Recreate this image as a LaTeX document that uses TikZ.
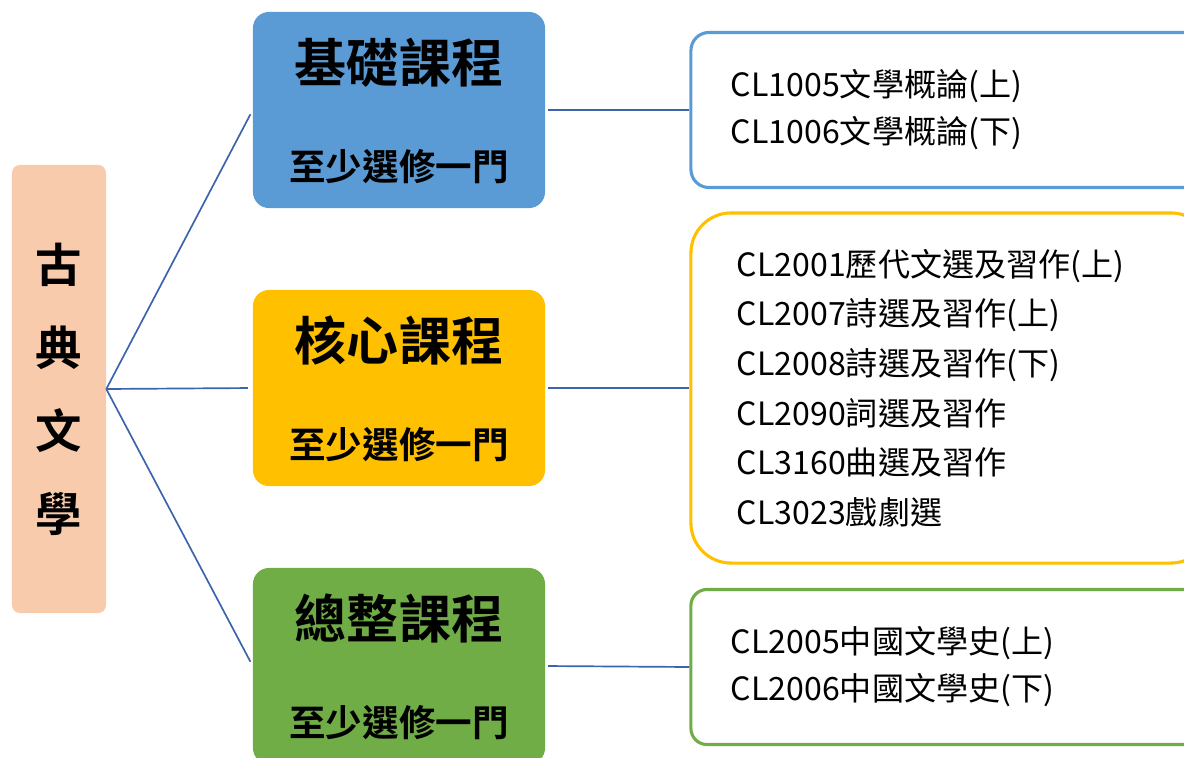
\documentclass[tikz,border=0pt]{standalone}
\usepackage{fontspec}
\usetikzlibrary{positioning}
\newfontfamily\cjk{Noto Sans CJK TC}[BoldFont={Noto Sans CJK TC Bold}]
\definecolor{rootorange}{HTML}{F8CBAD}
\definecolor{baseblue}{HTML}{5B9BD5}
\definecolor{coreyellow}{HTML}{FFC000}
\definecolor{capgreen}{HTML}{70AD47}
\definecolor{linkblue}{HTML}{3C64AC}
\tikzstyle{rootbox} = [rectangle, rounded corners=0.2cm, fill=rootorange, minimum width=2.35cm, minimum height=11.2cm, align=center, font=\cjk\bfseries\fontsize{33pt}{59pt}\selectfont]
\tikzstyle{groupbox} = [rectangle, rounded corners=0.4cm, minimum width=7.3cm, minimum height=4.9cm]
\tikzstyle{grouptitle} = [font=\cjk\bfseries\fontsize{37pt}{40pt}\selectfont]
\tikzstyle{groupnote} = [font=\cjk\bfseries\fontsize{26pt}{28pt}\selectfont]
\tikzstyle{listbox} = [rectangle, draw, line width=2.2pt, fill=white, minimum width=13cm, text width=11cm, inner xsep=1cm, align=left, font=\cjk\fontsize{22.8pt}{33.5pt}\selectfont]
\tikzstyle{link} = [draw=linkblue, line width=1.2pt]

\begin{document}
\begin{tikzpicture}[x=0.025cm, y=-0.025cm]
    \clip (0,0) rectangle (1184,757);
    \fill [white] (0,0) rectangle (1184,757);

    \node (root) [rootbox] at (59,389) {古\\典\\文\\學};

    \node (base) [groupbox, fill=baseblue] at (399,110) {};
    \node (core) [groupbox, fill=coreyellow] at (399,388) {};
    \node (cap)  [groupbox, fill=capgreen] at (399,666) {};

    \node (basetitle) [grouptitle, yshift=1.18cm] at (base) {基礎課程};
    \node (basenote)  [groupnote, yshift=-1.42cm] at (base) {至少選修一門};
    \node (coretitle) [grouptitle, yshift=1.18cm] at (core) {核心課程};
    \node (corenote)  [groupnote, yshift=-1.42cm] at (core) {至少選修一門};
    \node (captitle)  [grouptitle, yshift=1.18cm] at (cap) {總整課程};
    \node (capnote)   [groupnote, yshift=-1.42cm] at (cap) {至少選修一門};

    \node (baselist) [listbox, draw=baseblue, rounded corners=0.45cm, minimum height=3.875cm] at (951,110) {CL1005文學概論(上)\\CL1006文學概論(下)};
    \node (corelist) [listbox, draw=coreyellow, rounded corners=1cm, minimum height=8.75cm, text width=10.7cm, inner xsep=1.13cm, font=\cjk\fontsize{22.8pt}{35.3pt}\selectfont] at (951,388) {CL2001歷代文選及習作(上)\\CL2007詩選及習作(上)\\CL2008詩選及習作(下)\\CL2090詞選及習作\\CL3160曲選及習作\\CL3023戲劇選};
    \node (caplist)  [listbox, draw=capgreen, rounded corners=0.4cm, minimum height=3.875cm] at (951,667) {CL2005中國文學史(上)\\CL2006中國文學史(下)};

    \draw [link, shorten >=0.12cm] (root.east) -- (base.west);
    \draw [link, shorten >=0.12cm] (root.east) -- (core.west);
    \draw [link, shorten >=0.12cm] (root.east) -- (cap.west);
    \draw [link, shorten <=0.07cm] (base.east) -- (baselist.west);
    \draw [link, shorten <=0.07cm] (core.east) -- (corelist.west);
    \draw [link, shorten <=0.07cm] (cap.east) -- (caplist.west);
\end{tikzpicture}
\end{document}
